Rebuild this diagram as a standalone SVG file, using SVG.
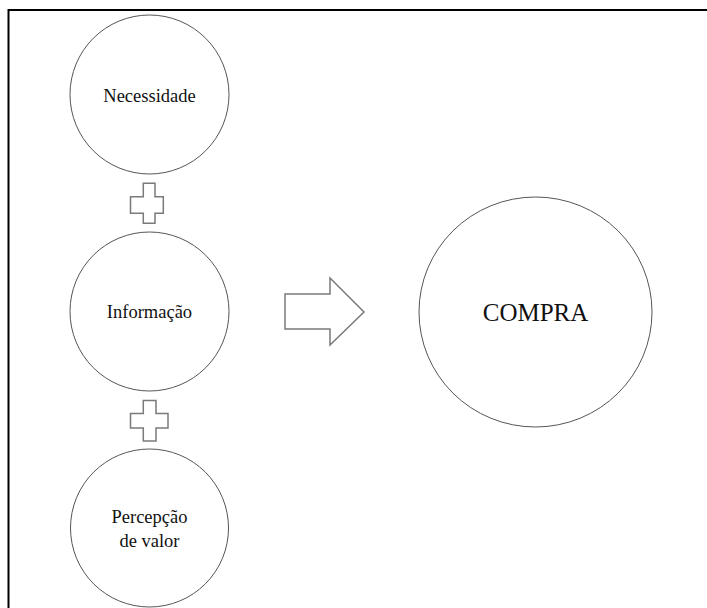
<svg xmlns="http://www.w3.org/2000/svg" width="707" height="608" viewBox="0 0 707 608">
<style>
.frame{fill:none;stroke:#000;stroke-width:2}
.node{fill:#fff;stroke:#555;stroke-width:1}
.sym{fill:#fff;stroke:#7a7a7a;stroke-width:1.5;stroke-linejoin:miter}
.lbl{font-family:"Liberation Serif","Times New Roman",serif;font-size:18.5px;fill:#111;text-anchor:middle}
.big{font-size:25px}
</style>
<rect width="707" height="608" fill="#fff"/>
<path class="frame" d="M8.5 612 V10 H712"/>
<g id="necessidade">
<circle class="node" cx="149.5" cy="94.5" r="79.5"/>
<text class="lbl" x="149.5" y="101.5">Necessidade</text>
</g>
<g id="informacao">
<circle class="node" cx="149.5" cy="311.5" r="79.5"/>
<text class="lbl" x="149.5" y="318">Informação</text>
</g>
<g id="percepcao">
<circle class="node" cx="149.5" cy="528" r="79"/>
<text class="lbl" x="149.5" y="523">Percepção</text>
<text class="lbl" x="149.5" y="547">de valor</text>
</g>
<g id="compra">
<ellipse class="node" cx="535.5" cy="312" rx="116.5" ry="115"/>
<text class="lbl big" x="535.5" y="321">COMPRA</text>
</g>
<g id="connectors">
<path class="sym" d="M143.3 183.3 H155 V196.7 H163.3 V213.3 H155 V223.3 H143.3 V213.3 H130.5 V196.7 H143.3 Z"/>
<path class="sym" d="M143.3 400.5 H156 V413.5 H168 V428 H156 V441 H143.3 V428 H130.5 V413.5 H143.3 Z"/>
<path class="sym" d="M285 294 H330 V278 L364 312 L330 345 V329 H285 Z"/>
</g>
</svg>
